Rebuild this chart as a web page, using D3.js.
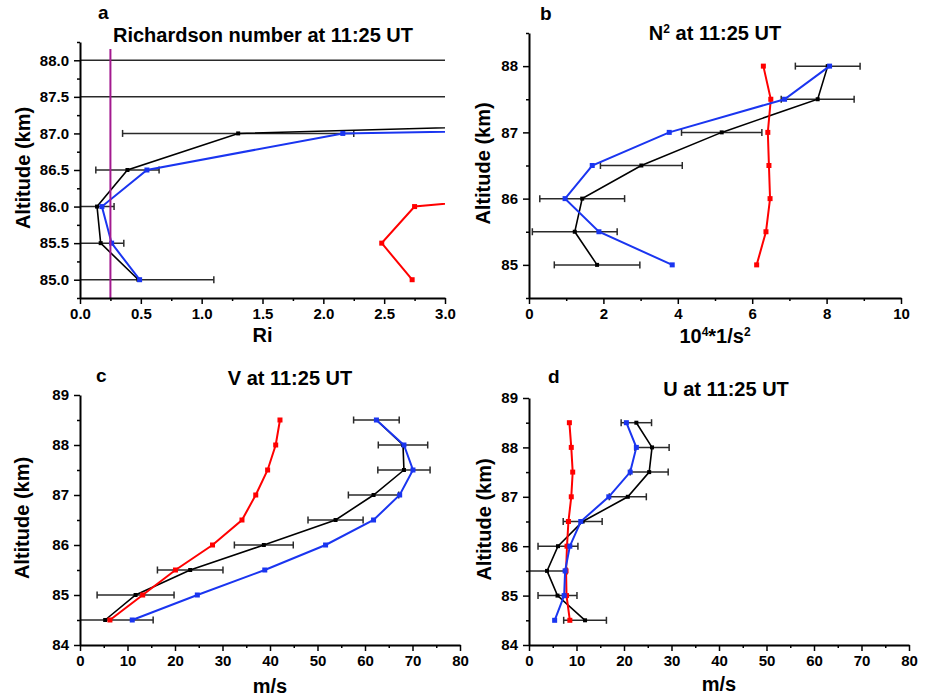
<!DOCTYPE html>
<html>
<head>
<meta charset="utf-8">
<script src="https://cdn.jsdelivr.net/npm/d3@7"></script>
<style>
  body { margin: 0; background: #fff; }
  text { font-family: "Liberation Sans", Arial, sans-serif; font-weight: bold; fill: #000; }
</style>
</head>
<body>
<script>
// altitude levels (km)
var altAB = [85.0, 85.5, 86.0, 86.5, 87.0, 87.5, 88.0];
var altCD = [84.5, 85.0, 85.5, 86.0, 86.5, 87.0, 87.5, 88.0, 88.5];

// a: Richardson number (points above 87 km lie far off scale)
var riBlack    = [0.48, 0.17, 0.14, 0.39, 1.30, 12.2, 9.0];
var riBlackErr = [0.62, 0.19, 0.14, 0.26, 0.95, 15, 12];
var riBlue     = [0.49, 0.26, 0.18, 0.55, 2.16, 21, null];
var riRed      = [2.73, 2.48, 2.75, 6.1, null, null, null];
var riCritical = 0.25;

// b: N^2 (10^4 * 1/s^2)
var n2Black    = [1.83, 1.23, 1.43, 3.02, 5.18, 7.76, 8.03];
var n2BlackErr = [1.15, 1.14, 1.14, 1.10, 1.08, 0.98, 0.87];
var n2Blue     = [3.85, 1.88, 0.97, 1.70, 3.77, 6.87, 8.08];
var n2Red      = [6.12, 6.37, 6.48, 6.45, 6.42, 6.50, 6.30];

// c: V (m/s)
var vBlack    = [5.3, 11.7, 23.2, 38.7, 53.8, 61.8, 68.2, 68.0, 62.4];
var vBlackErr = [10.1, 8.1, 6.9, 6.2, 5.8, 5.3, 5.5, 5.2, 4.8];
var vBlue     = [11.0, 24.7, 38.9, 51.7, 61.8, 67.3, 70.1, 68.2, 62.4];
var vRed      = [6.3, 13.2, 20.1, 27.9, 34.1, 37.0, 39.5, 41.2, 42.1];

// d: U (m/s)
var uBlack    = [11.8, 6.0, 3.8, 6.1, 11.3, 20.8, 25.3, 25.9, 22.6];
var uBlackErr = [4.5, 4.1, 4.2, 4.2, 4.1, 3.9, 4.0, 3.6, 3.2];
var uBlue     = [5.4, 7.4, 7.6, 8.6, 10.9, 16.8, 21.3, 22.6, 20.5];
var uRed      = [8.6, 7.9, 7.8, 8.0, 8.3, 8.9, 9.2, 8.9, 8.5];

// tick values
var riTicks = [0, 0.5, 1.0, 1.5, 2.0, 2.5, 3.0];
var riAltTicks = [85.0, 85.5, 86.0, 86.5, 87.0, 87.5, 88.0];
var n2Ticks = [0, 2, 4, 6, 8, 10];
var n2AltTicks = [85, 86, 87, 88];
var windTicks = [0, 10, 20, 30, 40, 50, 60, 70, 80];
var windAltTicks = [84, 85, 86, 87, 88, 89];

var RED = '#ff0000', BLUE = '#1a35f0', BLACK = '#000';

var svg = d3.select('body').append('svg')
  .attr('width', 925)
  .attr('height', 696);

var clipId = 0;

var drawPanel = function(p) {
  var x = d3.scaleLinear().domain(p.xDomain).range(p.xRange);
  var y = d3.scaleLinear().domain(p.yDomain).range(p.yRange);
  var g = svg.append('g');

  var id = 'clip' + (clipId++);
  g.append('clipPath').attr('id', id)
    .append('rect')
    .attr('x', p.xRange[0]).attr('y', p.yRange[1])
    .attr('width', p.xRange[1] - p.xRange[0])
    .attr('height', p.yRange[0] - p.yRange[1]);

  var plot = g.append('g').attr('clip-path', 'url(#' + id + ')');

  // critical Ri line
  if (p.vline != null) {
    g.append('line')
      .attr('x1', x(p.vline)).attr('x2', x(p.vline))
      .attr('y1', p.yRange[1] + 7).attr('y2', p.yRange[0])
      .attr('stroke', '#a3198f').attr('stroke-width', 2);
  }

  // error bars of the black series
  var eb = plot.selectAll('.err').data(p.alt.map(function(a, i) {
    return { a: a, v: p.black[i], e: p.err[i] };
  })).enter().append('g');
  eb.append('line')
    .attr('x1', function(d) { return x(d.v - d.e); })
    .attr('x2', function(d) { return x(d.v + d.e); })
    .attr('y1', function(d) { return y(d.a); })
    .attr('y2', function(d) { return y(d.a); })
    .attr('stroke', '#2a2a2a').attr('stroke-width', 1.5);
  [-1, 1].forEach(function(s) {
    eb.append('line')
      .attr('x1', function(d) { return x(d.v + s * d.e); })
      .attr('x2', function(d) { return x(d.v + s * d.e); })
      .attr('y1', function(d) { return y(d.a) - 3.5; })
      .attr('y2', function(d) { return y(d.a) + 3.5; })
      .attr('stroke', '#2a2a2a').attr('stroke-width', 1.5);
  });

  var series = [
    { vals: p.black, color: BLACK, w: 1.6, m: 4 },
    { vals: p.red, color: RED, w: 2, m: 5 },
    { vals: p.blue, color: BLUE, w: 2, m: 5 }
  ];
  series.forEach(function(s) {
    var pts = p.alt.map(function(a, i) { return [s.vals[i], a]; });
    var line = d3.line()
      .defined(function(d) { return d[0] != null; })
      .x(function(d) { return x(d[0]); })
      .y(function(d) { return y(d[1]); });
    plot.append('path').datum(pts)
      .attr('d', line)
      .attr('fill', 'none')
      .attr('stroke', s.color)
      .attr('stroke-width', s.w);
    plot.selectAll(null)
      .data(pts.filter(function(d) { return d[0] != null; }))
      .enter().append('rect')
      .attr('x', function(d) { return x(d[0]) - s.m / 2; })
      .attr('y', function(d) { return y(d[1]) - s.m / 2; })
      .attr('width', s.m).attr('height', s.m)
      .attr('fill', s.color);
  });

  // axes
  var styleAxis = function(sel) {
    sel.selectAll('path').attr('stroke', '#000').attr('stroke-width', 2);
    sel.selectAll('line').attr('stroke', '#000').attr('stroke-width', 1.5);
    sel.selectAll('text').style('font-size', '15px').attr('fill', '#000');
  };
  var xMinor = g.append('g').attr('transform', 'translate(0,' + p.yRange[0] + ')')
    .call(d3.axisBottom(x).tickValues(p.xMinor).tickSize(3).tickFormat(''));
  xMinor.select('path').remove();
  xMinor.selectAll('line').attr('stroke', '#000').attr('stroke-width', 1.5);
  var yMinor = g.append('g').attr('transform', 'translate(' + p.xRange[0] + ',0)')
    .call(d3.axisLeft(y).tickValues(p.yMinor).tickSize(3).tickFormat(''));
  yMinor.select('path').remove();
  yMinor.selectAll('line').attr('stroke', '#000').attr('stroke-width', 1.5);

  g.append('g').attr('transform', 'translate(0,' + p.yRange[0] + ')')
    .call(d3.axisBottom(x).tickValues(p.xTicks).tickSize(6).tickSizeOuter(0)
      .tickPadding(4).tickFormat(d3.format(p.xFmt)))
    .call(styleAxis);
  g.append('g').attr('transform', 'translate(' + p.xRange[0] + ',0)')
    .call(d3.axisLeft(y).tickValues(p.yTicks).tickSize(6).tickSizeOuter(0)
      .tickPadding(5).tickFormat(d3.format(p.yFmt)))
    .call(styleAxis);

  // labels
  g.append('text')
    .attr('transform', 'translate(' + p.yLabelX + ',' + ((p.yRange[0] + p.yRange[1]) / 2 - 2) + ') rotate(-90)')
    .attr('text-anchor', 'middle')
    .style('font-size', '20px')
    .text('Altitude (km)');

  var xl = g.append('text')
    .attr('x', (p.xRange[0] + p.xRange[1]) / 2)
    .attr('y', p.xLabelY)
    .attr('text-anchor', 'middle')
    .style('font-size', '20px');
  p.xLabel.forEach(function(part) {
    var t = xl.append('tspan').text(part[0]);
    if (part[1]) t.attr('baseline-shift', 'super').style('font-size', '12px');
  });

  g.append('text')
    .attr('x', p.letterPos[0]).attr('y', p.letterPos[1])
    .style('font-size', '19px')
    .text(p.letter);

  var tl = g.append('text')
    .attr('x', p.titlePos[0]).attr('y', p.titlePos[1])
    .attr('text-anchor', 'middle')
    .style('font-size', '20px');
  p.title.forEach(function(part) {
    var t = tl.append('tspan').text(part[0]);
    if (part[1]) t.attr('baseline-shift', 'super').style('font-size', '12px');
  });
};

var range = function(a, b, s) { return d3.range(a, b + s / 2, s); };

drawPanel({
  xRange: [80, 445], yRange: [298, 42],
  xDomain: [0, 3], yDomain: [84.75, 88.25],
  xTicks: riTicks, xMinor: range(0.25, 2.75, 0.5), xFmt: '.1f',
  yTicks: riAltTicks, yMinor: range(84.75, 88.25, 0.5), yFmt: '.1f',
  alt: altAB, black: riBlack, err: riBlackErr, blue: riBlue, red: riRed,
  vline: riCritical,
  yLabelX: 30, xLabelY: 342, xLabel: [['Ri']],
  letter: 'a', letterPos: [98, 19],
  title: [['Richardson number at 11:25 UT']], titlePos: [263, 42]
});

drawPanel({
  xRange: [529, 901], yRange: [298, 33],
  xDomain: [0, 10], yDomain: [84.5, 88.5],
  xTicks: n2Ticks, xMinor: range(1, 9, 2), xFmt: 'd',
  yTicks: n2AltTicks, yMinor: range(84.5, 88.5, 1), yFmt: 'd',
  alt: altAB, black: n2Black, err: n2BlackErr, blue: n2Blue, red: n2Red,
  yLabelX: 490, xLabelY: 343, xLabel: [['10'], ['4', true], ['*1/s'], ['2', true]],
  letter: 'b', letterPos: [540, 20],
  title: [['N'], ['2', true], [' at 11:25 UT']], titlePos: [715, 40]
});

drawPanel({
  xRange: [80, 460], yRange: [645, 395],
  xDomain: [0, 80], yDomain: [84, 89],
  xTicks: windTicks, xMinor: range(5, 75, 10), xFmt: 'd',
  yTicks: windAltTicks, yMinor: range(84.5, 88.5, 1), yFmt: 'd',
  alt: altCD, black: vBlack, err: vBlackErr, blue: vBlue, red: vRed,
  yLabelX: 29, xLabelY: 693, xLabel: [['m/s']],
  letter: 'c', letterPos: [96, 382],
  title: [['V at 11:25 UT']], titlePos: [290, 385]
});

drawPanel({
  xRange: [529, 909], yRange: [645, 398],
  xDomain: [0, 80], yDomain: [84, 89],
  xTicks: windTicks, xMinor: range(5, 75, 10), xFmt: 'd',
  yTicks: windAltTicks, yMinor: range(84.5, 88.5, 1), yFmt: 'd',
  alt: altCD, black: uBlack, err: uBlackErr, blue: uBlue, red: uRed,
  yLabelX: 491, xLabelY: 691, xLabel: [['m/s']],
  letter: 'd', letterPos: [548, 383],
  title: [['U at 11:25 UT']], titlePos: [726, 396]
});
</script>
</body>
</html>
